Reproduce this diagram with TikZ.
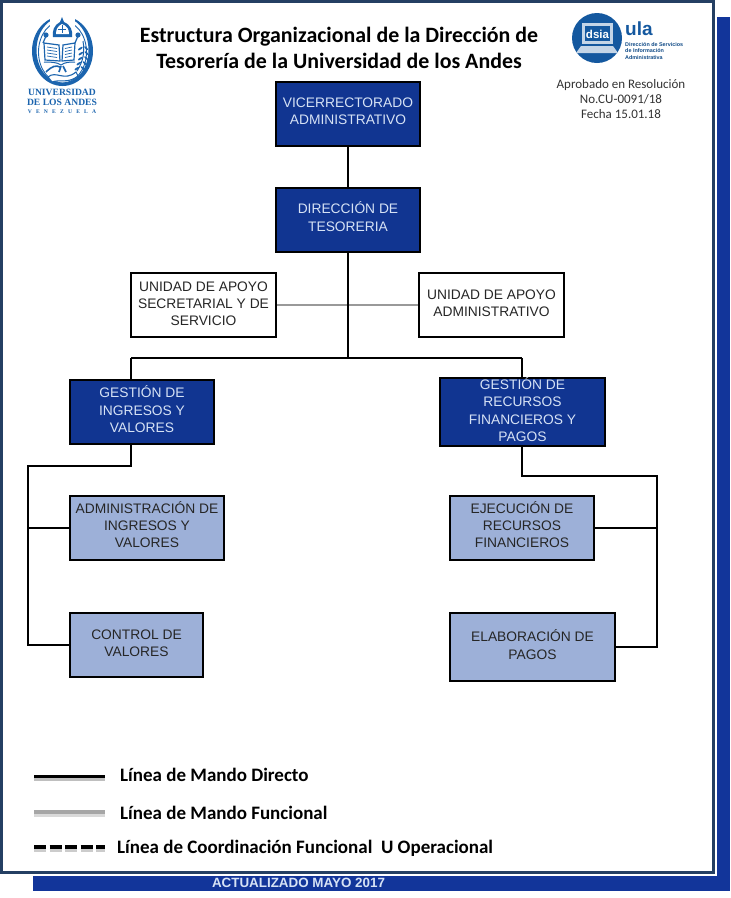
\documentclass[tikz,border=0pt]{standalone}
\usepackage{fontspec}
\setmainfont{Liberation Sans}
\newfontfamily\cb{Carlito}
\definecolor{frameblue}{HTML}{243F63}
\definecolor{stripblue}{HTML}{12359A}
\definecolor{darkbox}{HTML}{113591}
\definecolor{lightbox}{HTML}{9DB0D8}
\definecolor{boxtxt}{HTML}{D6E2F5}
\definecolor{logoblue}{HTML}{1B64AE}
\definecolor{dsiablue}{HTML}{14589F}
\newcommand{\tl}[2][2.5]{\raisebox{\dimexpr#1pt-5.3pt\relax}[0pt][0pt]{\begin{tabular}[c]{@{}c@{}}#2\end{tabular}}}
\tikzset{
 orgbox/.style={draw=black,line width=2pt,inner sep=0pt,font=\fontsize{13.8}{17.1}\selectfont,text=black!85},
 dark/.style={orgbox,fill=darkbox,text=boxtxt},
 light/.style={orgbox,fill=lightbox,text=black!85},
 plain/.style={orgbox,fill=white},
 direct/.style={draw=black,line width=2pt},
 func/.style={draw=black!40,line width=1.6pt},
 legendtxt/.style={font=\cb\bfseries\fontsize{19}{22}\selectfont,anchor=west,inner sep=0pt},
 titletxt/.style={font=\cb\bfseries\fontsize{21.9}{26}\selectfont,align=center,inner sep=0pt},
 notetxt/.style={font=\cb\fontsize{13}{15}\selectfont,align=center,inner sep=0pt,text=black!80},
 logotxt/.style={text=logoblue,inner sep=0pt},
}
\begin{document}
\begin{tikzpicture}[x=1pt,y=-1pt]
\useasboundingbox (0,0) rectangle (731,898);
% backing strip and page frame
\fill[white] (0,0) rectangle (731,898);
\fill[stripblue] (33,17) rectangle (730,890.5);
\fill[white] (0,0) rectangle (716.5,876);
\draw[frameblue,line width=3pt,fill=white] (1.5,1.5) rectangle (713,872.5);
\node[font=\bfseries\fontsize{13.4}{14}\selectfont,text=boxtxt,inner sep=0pt] (upd) at (298.5,883) {ACTUALIZADO MAYO 2017};
% title
\node[titletxt] (title) at (339,48) {Estructura Organizacional de la Dirección de\\Tesorería de la Universidad de los Andes};
% ULA logo
\begin{scope}[logoblue]
\fill[even odd rule] (62.5,51) ellipse (30.5 and 35) (62.5,50) ellipse (26 and 33);
\draw[line width=.9pt] (62.5,52) ellipse (24 and 31);
\fill[white] (50,14) rectangle (75,30);
% mitre
\fill (62,17) -- (64,22) .. controls (71,25) and (73,31) .. (72,37) -- (53,37) .. controls (52,31) and (54,25) .. (60,22) -- cycle;
\fill[white] (62,24) .. controls (67,26) and (69,29) .. (69,34) -- (56,34) .. controls (56,29) and (58,26) .. (62,24) -- cycle;
\draw[line width=.8pt] (62,25) -- (62,33) (58,29) -- (66,29);
% book
\draw[line width=1.2pt,fill=white] (44,43) -- (59,45) -- (60,61) -- (45,60) -- cycle;
\draw[line width=1.2pt,fill=white] (75,43) -- (63,45) -- (62,61) -- (74,60) -- cycle;
\draw[line width=1pt] (44,62) .. controls (50,62) and (57,62) .. (61,65) .. controls (65,62) and (70,62) .. (75,62);
\draw[line width=.7pt] (47,47)--(57,48.5) (47,50)--(57,51.5) (47,53)--(57,54.5) (47,56)--(57,57.5)
  (72,47)--(65,48.5) (72,50)--(65,51.5) (72,53)--(65,54.5) (72,56)--(65,57.5);
% torch and staff
\draw[line width=1.2pt] (46,36) -- (43,43) (78,36) -- (75,43);
\fill (46,35) circle (2.6) (78,35) circle (2.6);
% laurel
\draw[line width=1pt] (77,71) .. controls (83,62) and (85,52) .. (83,41);
\foreach \px/\py in {84/46,84.5/51,84/56,82.5/61,80.5/66}{
  \fill[rotate around={35:(\px,\py)}] (\px-4.5,\py) ellipse (2.8 and 1);
  \fill[rotate around={-45:(\px,\py)}] (\px+3,\py) ellipse (2.6 and .9);
}
% torch below and ribbon
\draw[line width=1.6pt] (46,72) .. controls (52,66) and (56,65) .. (60,67);
\draw[line width=1.6pt] (61,66) -- (59,72) (63,66) -- (66,72);
\draw[line width=1.1pt,fill=white] (48,77) .. controls (56,70) and (64,82) .. (76,72) -- (78,76) .. controls (68,84) and (60,79) .. (52,82) -- cycle;
\end{scope}
\node[logotxt,font=\fontspec{Liberation Serif}\bfseries\fontsize{9.6}{11}\selectfont] (ula1) at (62,92.5) {UNIVERSIDAD};
\node[logotxt,font=\fontspec{Liberation Serif}\bfseries\fontsize{9.6}{11}\selectfont] (ula2) at (62,102.5) {DE LOS ANDES};
\node[logotxt,font=\fontspec{Liberation Serif}\bfseries\fontsize{5.6}{7}\selectfont] (ula3) at (62,111.5) {V\hspace{4.2pt}E\hspace{4.2pt}N\hspace{4.2pt}E\hspace{4.2pt}Z\hspace{4.2pt}U\hspace{4.2pt}E\hspace{4.2pt}L\hspace{4.2pt}A};
% dsia logo
\fill[dsiablue] (597,38) circle (25);
\fill[white!75!dsiablue] (582,23) rectangle (613,44);
\fill[dsiablue] (585,26) rectangle (610,41);
\fill[white!75!dsiablue] (581,46) -- (613,46) -- (618,53) -- (576,53) -- cycle;
\node[font=\bfseries\fontsize{11.5}{12}\selectfont,text=white,inner sep=0pt] (dsia) at (597.5,34) {dsia};
\node[font=\bfseries\fontsize{19}{19}\selectfont,text=dsiablue,anchor=west,inner sep=0pt] (ulab) at (625,29) {ula};
\node[font=\bfseries\fontsize{5.4}{6.6}\selectfont,text=dsiablue!85!black,anchor=west,align=left,inner sep=0pt] (dsiat) at (625,51) {Dirección de Servicios\\de Información\\Administrativa};
\node[notetxt] (note) at (621,99.5) {Aprobado en Resolución\\No.CU-0091/18\\Fecha 15.01.18};
% boxes
\node[dark,minimum width=144pt,minimum height=64pt] (vice) at (348,114) {\tl[3.2]{VICERRECTORADO\\ADMINISTRATIVO}};
\node[dark,minimum width=144pt,minimum height=64pt] (dir) at (348,220) {\tl[2.6]{DIRECCIÓN DE\\TESORERIA}};
\coordinate (fork) at (348,358);
\coordinate (forkL) at (131,358);
\coordinate (forkR) at (522,358);
\node[plain,minimum width=145pt,minimum height=64pt] (usec) at (203.5,305) {\tl[1.5]{UNIDAD DE APOYO\\SECRETARIAL Y DE\\SERVICIO}};
\node[plain,minimum width=145pt,minimum height=64pt] (uadm) at (491.5,305) {\tl[2]{UNIDAD DE APOYO\\ADMINISTRATIVO}};
\draw[func] (usec) -- (uadm);
\draw[direct] (vice) -- (dir);
\draw[direct] (dir) -- (fork);
\draw[direct] (forkL) -- (forkR);
\node[dark,minimum width=144pt,minimum height=64pt] (gi) at (142,412) {\tl[2.1]{GESTIÓN DE\\INGRESOS Y\\VALORES}};
\node[dark,minimum width=165pt,minimum height=68pt] (gr) at (522.5,412) {\tl[1.6]{GESTIÓN DE\\RECURSOS\\FINANCIEROS Y\\PAGOS}};
\draw[direct] (forkL) -- (gi.north -| forkL);
\draw[direct] (forkR) -- (gr.north -| forkR);
\node[light,minimum width=154pt,minimum height=64pt] (adm) at (147,528) {\tl[2.3]{ADMINISTRACIÓN DE\\INGRESOS Y\\VALORES}};
\node[light,minimum width=133pt,minimum height=64pt] (con) at (136.5,645) {\tl[2]{CONTROL DE\\VALORES}};
\node[light,minimum width=144pt,minimum height=64pt] (eje) at (522,528) {\tl[2.3]{EJECUCIÓN DE\\RECURSOS\\FINANCIEROS}};
\node[light,minimum width=165pt,minimum height=68pt] (ela) at (532.5,647) {\tl[1.6]{ELABORACIÓN DE\\PAGOS}};
\coordinate (la) at (131,466);
\coordinate (lb) at (28,466);
\coordinate (lc) at (28,645);
\coordinate (ld) at (28,528);
\coordinate (ra) at (522,476);
\coordinate (rb) at (657,476);
\coordinate (rc) at (657,647);
\coordinate (rd) at (657,528);
\draw[direct] (gi.south -| la) -- (la) -- (lb) -- (lc) -- (con.west);
\draw[direct] (ld) -- (adm.west);
\draw[direct] (gr.south -| ra) -- (ra) -- (rb) -- (rc) -- (ela.east);
\draw[direct] (rd) -- (eje.east);
% legend
\coordinate (l1a) at (34,776); \coordinate (l1b) at (105,776);
\coordinate (l2a) at (34,812); \coordinate (l2b) at (105,812);
\coordinate (l3a) at (34,847); \coordinate (l3b) at (105,847);
\draw[black!25,line width=3pt] ([yshift=-3pt]l1a) -- ([yshift=-3pt]l1b);
\draw[black,line width=3pt] (l1a) -- (l1b);
\draw[black!15,line width=3pt] ([yshift=-3pt]l2a) -- ([yshift=-3pt]l2b);
\draw[black!35,line width=3.5pt] (l2a) -- (l2b);
\draw[black!20,line width=3pt,dash pattern=on 12pt off 3.5pt] ([yshift=-3pt]l3a) -- ([yshift=-3pt]l3b);
\draw[black,line width=3.5pt,dash pattern=on 12pt off 3.5pt] (l3a) -- (l3b);
\node[legendtxt] (t1) at (120,775) {Línea de Mando Directo};
\node[legendtxt] (t2) at (120,813) {Línea de Mando Funcional};
\node[legendtxt] (t3) at (117,848) {Línea de Coordinación Funcional\ \ U Operacional};
\end{tikzpicture}
\end{document}
